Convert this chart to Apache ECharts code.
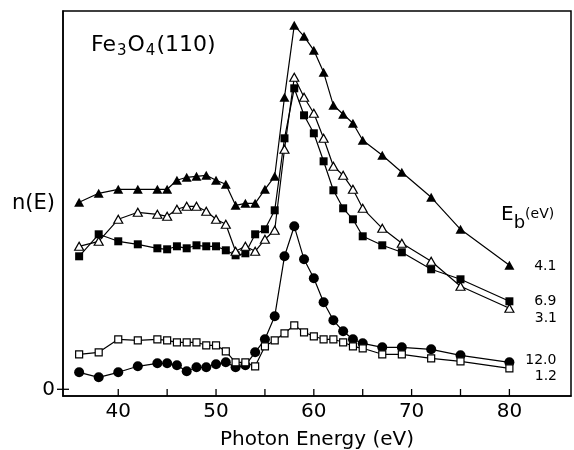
<!DOCTYPE html>
<html>
<head>
<meta charset="utf-8">
<script src="https://cdn.jsdelivr.net/npm/echarts@6/dist/echarts.min.js"></script>
<style>
  html, body { margin: 0; padding: 0; background: #fff; }
  #chart { width: 574px; height: 450px; }
</style>
</head>
<body>
<div id="chart"></div>
<script>
// Photon energy (eV) of every measured point
const energy = [36, 38, 40, 42, 44, 45, 46, 47, 48, 49, 50, 51, 52, 53, 54, 55, 56, 57, 58, 59, 60, 61, 62, 63, 64, 65, 67, 69, 72, 75, 80];

// n(E) in arbitrary units for each binding energy E_b
const nE_41 = [187, 196, 200, 200, 200, 200, 209, 212, 213, 214, 209, 205, 184, 186, 186, 200, 213, 292, 364, 353, 339, 317, 284, 275, 266, 249, 234, 217, 192, 160, 124];
const nE_69 = [133, 155, 148, 145, 141, 140, 143, 141, 144, 143, 143, 139, 134, 136, 155, 160, 179, 251, 301, 274, 256, 228, 199, 181, 170, 153, 144, 137, 120, 110, 88];
const nE_31 = [143, 148, 170, 177, 175, 173, 180, 183, 183, 178, 170, 165, 138, 143, 138, 150, 159, 240, 312, 292, 276, 251, 223, 214, 200, 181, 161, 146, 128, 103, 81];
const nE_120 = [17, 12, 17, 23, 26, 26, 24, 18, 22, 22, 25, 27, 22, 24, 37, 50, 73, 133, 163, 130, 111, 87, 69, 58, 50, 46, 42, 42, 40, 34, 27];
const nE_12 = [35, 37, 50, 49, 50, 49, 47, 47, 47, 44, 44, 38, 27, 27, 23, 43, 49, 56, 64, 57, 53, 50, 50, 47, 43, 41, 35, 35, 31, 28, 21];

// Axis ticks and labels
const xTickValues = [40, 45, 50, 55, 60, 65, 70, 75, 80];
const xLabelValues = [40, 50, 60, 70, 80];
const yTickValues = [0];

const FONT = 'DejaVu Sans';
const INK = '#000';
const X_MIN = 34.35, X_MAX = 86.3;
const Y_MIN = -6.7, Y_MAX = 378.3;

function curve(name, ys, symbol, size, filled, tag, tagDy) {
  const data = energy.map((x, i) => [x, ys[i]]);
  const last = data.length - 1;
  const w = Array.isArray(size) ? size[0] : size;
  data[last] = {
    value: data[last],
    label: {
      show: true,
      formatter: tag,
      position: 'right',
      distance: 47 - w / 2,
      align: 'right',
      offset: [0, tagDy],
      fontSize: 14,
      fontFamily: FONT,
      color: INK
    }
  };
  return {
    type: 'line',
    name: name,
    data: data,
    symbol: symbol,
    symbolSize: size,
    showAllSymbol: true,
    lineStyle: { color: INK, width: 1.2 },
    itemStyle: {
      color: filled ? INK : '#fff',
      borderColor: INK,
      borderWidth: filled ? 0 : 1.2
    },
    emphasis: { disabled: true },
    animation: false
  };
}

// Short tick strokes: x ticks point up from the bottom frame,
// the zero tick on the n(E) axis crosses the left frame line.
function tickSeries(values, dim) {
  return {
    type: 'custom',
    silent: true,
    clip: false,
    z: 1,
    data: values.map(v => (dim === 'x' ? [v, Y_MIN] : [X_MIN, v])),
    renderItem: function (params, api) {
      const cs = params.coordSys;
      const p = api.coord([api.value(0), api.value(1)]);
      let shape;
      if (dim === 'x') {
        const bottom = cs.y + cs.height;
        shape = { x1: p[0], y1: bottom, x2: p[0], y2: bottom - 7 };
      } else {
        shape = { x1: cs.x - 6, y1: p[1], x2: cs.x + 6, y2: p[1] };
      }
      return { type: 'line', shape: shape, style: { stroke: INK, lineWidth: 1.3 } };
    }
  };
}

const chart = echarts.init(document.getElementById('chart'), null, { renderer: 'canvas' });

chart.setOption({
  backgroundColor: '#fff',
  animation: false,
  grid: {
    left: 63, right: 3, top: 11, bottom: 54,
    show: true, borderColor: INK, borderWidth: 1.5,
    containLabel: false,
    outerBoundsMode: 'none'
  },
  xAxis: {
    type: 'value',
    min: X_MIN, max: X_MAX,
    axisLine: { onZero: false, lineStyle: { color: INK, width: 1.5 } },
    axisTick: { show: false },
    axisLabel: { customValues: xLabelValues, fontSize: 20, fontFamily: FONT, color: INK, margin: 6 },
    splitLine: { show: false },
    name: 'Photon Energy (eV)',
    nameLocation: 'middle',
    nameGap: 34,
    nameMoveOverlap: false,
    nameTextStyle: { fontSize: 20, fontFamily: FONT, color: INK }
  },
  yAxis: {
    type: 'value',
    min: Y_MIN, max: Y_MAX,
    axisLine: { show: true, onZero: false, lineStyle: { color: INK, width: 1.5 } },
    axisTick: { show: false },
    axisLabel: { customValues: yTickValues, fontSize: 20, fontFamily: FONT, color: INK, margin: 8 },
    splitLine: { show: false },
    name: 'n(E)',
    nameLocation: 'middle',
    nameRotate: 0,
    nameGap: 8,
    nameMoveOverlap: false,
    nameTextStyle: { fontSize: 21, fontFamily: FONT, color: INK, align: 'right' }
  },
  graphic: [
    {
      type: 'text',
      left: 91, top: 34,
      style: {
        text: '{a|Fe}{s|3}{a|O}{s|4}{a|(110)}',
        fill: INK,
        rich: {
          a: { fontSize: 22, fontFamily: FONT, lineHeight: 23, verticalAlign: 'top', fill: INK },
          s: { fontSize: 15, fontFamily: FONT, lineHeight: 15, padding: [10, 1, 0, 1], verticalAlign: 'top', fill: INK }
        }
      }
    },
    {
      type: 'text',
      left: 501, top: 205,
      style: {
        text: '{e|E}{b|b}{u|(eV)}',
        fill: INK,
        rich: {
          e: { fontSize: 20, fontFamily: FONT, lineHeight: 20, verticalAlign: 'top', fill: INK },
          b: { fontSize: 18, fontFamily: FONT, lineHeight: 18, padding: [9, 0, 0, 0], verticalAlign: 'top', fill: INK },
          u: { fontSize: 14, fontFamily: FONT, lineHeight: 16, padding: [2, 0, 0, 0], verticalAlign: 'top', fill: INK }
        }
      }
    }
  ],
  series: [
    tickSeries(xTickValues, 'x'),
    tickSeries(yTickValues, 'y'),
    curve('4.1', nE_41, 'triangle', [10, 9], true, '4.1', 1),
    curve('6.9', nE_69, 'rect', 8, true, '6.9', 0),
    curve('3.1', nE_31, 'triangle', [9, 8], false, '3.1', 10),
    curve('12.0', nE_120, 'circle', 10, true, '12.0', -2),
    curve('1.2', nE_12, 'rect', 7, false, '1.2', 8)
  ]
});
</script>
</body>
</html>
